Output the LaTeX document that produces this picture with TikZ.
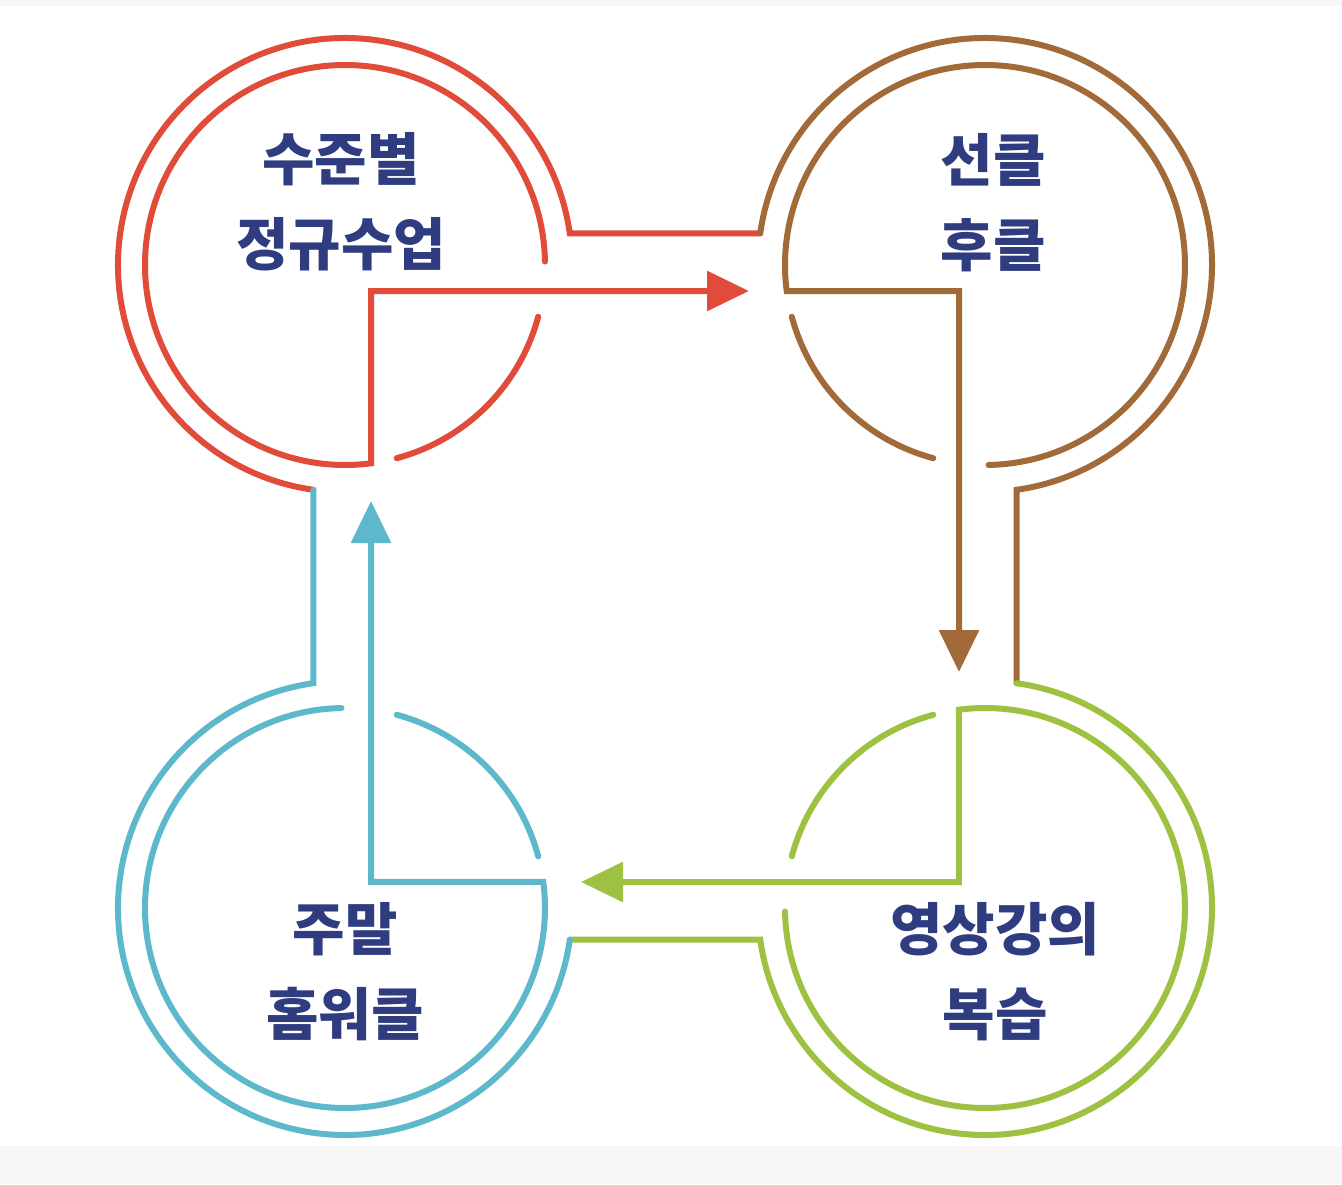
\documentclass[tikz,border=0pt]{standalone}
\usepackage{fontspec}
\newfontfamily\krfont{Noto Sans CJK KR}[BoldFont={Noto Sans CJK KR Black}]
\usepackage{tikz}
\usetikzlibrary{arrows.meta,calc}
\definecolor{navy}{HTML}{2F3D80}
\definecolor{level}{HTML}{E04B3A}
\definecolor{preview}{HTML}{A26A38}
\definecolor{replay}{HTML}{9DC242}
\definecolor{weekend}{HTML}{5DB8CB}
\definecolor{paper}{HTML}{F6F6F6}
\tikzset{
  ring/.style={line width=6pt,line cap=round},
  arr/.style={-{Triangle[length=42pt,width=39pt]},line width=6pt,line cap=round},
  lbl/.style={font=\krfont\bfseries\fontsize{57}{85}\selectfont,text=navy,align=center},
}

\begin{document}
\begin{tikzpicture}[x=1pt,y=1pt]
    % page
    \fill[paper] (0,0) rectangle (1342,-1184);
    \fill[white] (0,-6) rectangle (1342,-1146);
    \useasboundingbox (0,0) rectangle (1342,-1184);
    \coordinate (c1) at (345,-265);
    \coordinate (c2) at (985,-265);
    \coordinate (c3) at (985,-908);
    \coordinate (c4) at (345,-908);
    \node[lbl] (t1) at ($(c1)+(-4,63)$) {수준별\\정규수업};
    \node[lbl] (t2) at ($(c2)+(8,62)$) {선클\\후클};
    \node[lbl] (t3) at ($(c3)+(10,-64)$) {영상강의\\복습};
    \node[lbl] (t4) at ($(c4)+(0,-64)$) {주말\\홈워클};
    % outer track
    \draw[ring,level] ($(c1)+(262:227)$) arc[start angle=262,end angle=8,radius=227] -- ($(c2)+(172:227)$);
    \draw[ring,preview] ($(c2)+(172:227)$) arc[start angle=172,end angle=-82,radius=227] -- ($(c3)+(82:227)$);
    \draw[ring,replay] ($(c3)+(82:227)$) arc[start angle=82,end angle=-172,radius=227] -- ($(c4)+(-8:227)$);
    \draw[ring,weekend] ($(c4)+(-8:227)$) arc[start angle=-8,end angle=-262,radius=227] -- ($(c1)+(262:227)$);
    % inner rings and arrows
    \draw[arr,level] ($(c1)+(1:200)$) arc[start angle=1,end angle=277.5,radius=200] |- ($(c2)+(-236,-26)$);
    \draw[ring,level] ($(c1)+(-75:200)$) arc[start angle=-75,end angle=-15,radius=200];
    \draw[arr,preview] ($(c2)+(-89:200)$) arc[start angle=-89,end angle=187.5,radius=200] -| ($(c3)+(-26,236)$);
    \draw[ring,preview] ($(c2)+(-165:200)$) arc[start angle=-165,end angle=-105,radius=200];
    \draw[arr,replay] ($(c3)+(-179:200)$) arc[start angle=-179,end angle=97.5,radius=200] |- ($(c4)+(236,26)$);
    \draw[ring,replay] ($(c3)+(105:200)$) arc[start angle=105,end angle=165,radius=200];
    \draw[arr,weekend] ($(c4)+(91:200)$) arc[start angle=91,end angle=367.5,radius=200] -| ($(c1)+(26,-236)$);
    \draw[ring,weekend] ($(c4)+(15:200)$) arc[start angle=15,end angle=75,radius=200];
\end{tikzpicture}
\end{document}
